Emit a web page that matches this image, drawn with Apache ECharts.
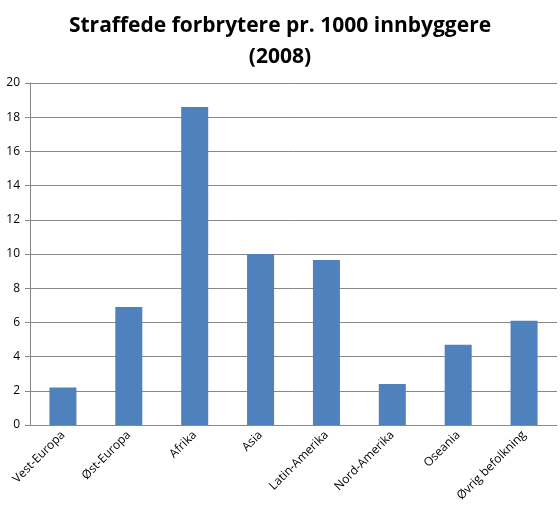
<!DOCTYPE html><html><head><meta charset="utf-8"><script src="https://cdn.jsdelivr.net/npm/echarts@6/dist/echarts.min.js"></script></head><body style="margin:0;background:#fff"><div id="c" style="width:560px;height:512px"></div><script>
const categories=["Vest-Europa","Øst-Europa","Afrika","Asia","Latin-Amerika","Nord-Amerika","Oseania","Øvrig befolkning"];
const values=[2.2,6.9,18.6,10.0,9.65,2.4,4.7,6.1];
const c=echarts.init(document.getElementById('c'));
c.setOption({animation:false,
title:{text:"Straffede forbrytere pr. 1000 innbyggere\n(2008)",left:'center',top:6,textStyle:{fontFamily:'Open Sans',fontWeight:'bold',fontSize:21,lineHeight:31,color:'#000'}},
grid:{left:30,right:3,top:83,bottom:87},
xAxis:{type:'category',data:categories,axisLine:{lineStyle:{color:'#888'}},axisTick:{length:5,lineStyle:{color:'#888'}},axisLabel:{rotate:45,interval:0,fontFamily:'Open Sans',fontSize:12,color:'#000',margin:8}},
yAxis:{type:'value',min:0,max:20,interval:2,axisLine:{show:true,lineStyle:{color:'#888'}},axisTick:{show:true,length:5,lineStyle:{color:'#888'}},splitLine:{lineStyle:{color:'#888'}},axisLabel:{fontFamily:'Open Sans',fontSize:12,color:'#000',margin:10}},
series:[{type:'bar',data:values,barWidth:'41%',itemStyle:{color:'#4f81bd'}}]});
</script></body></html>
